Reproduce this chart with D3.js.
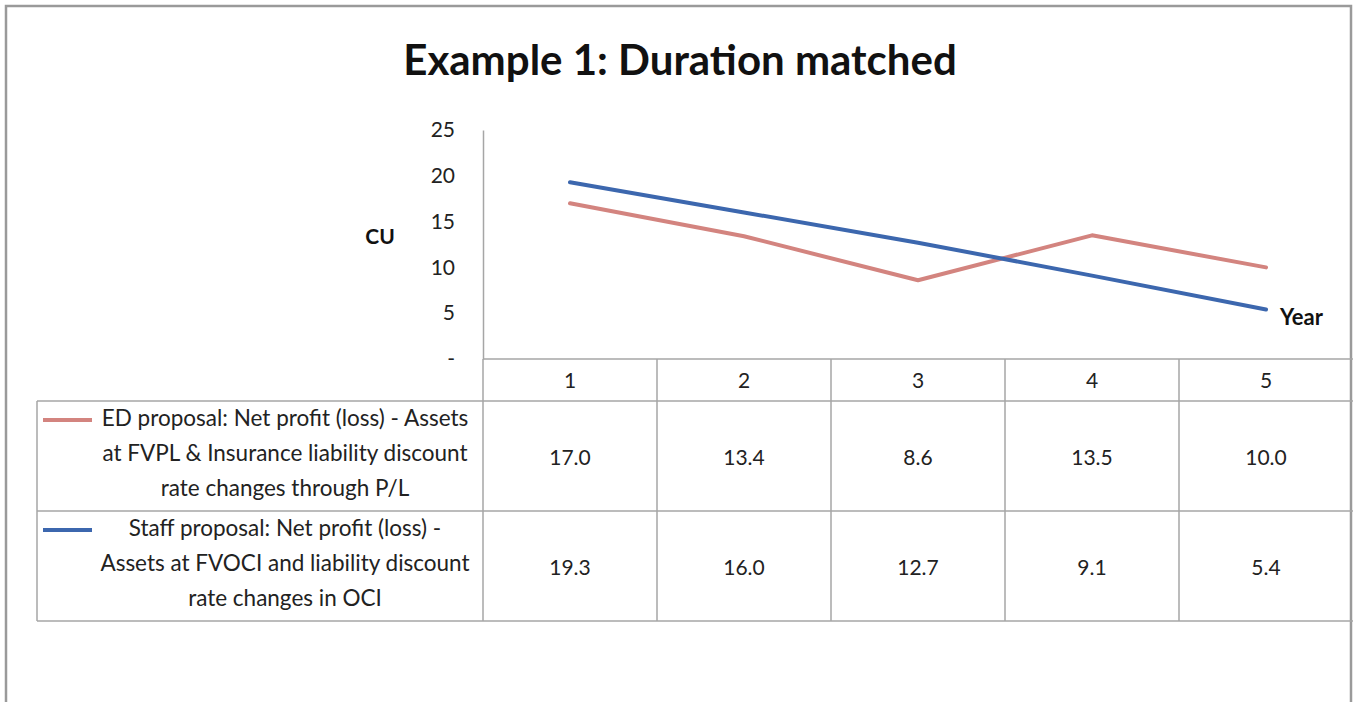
<!DOCTYPE html>
<html><head><meta charset="utf-8">
<script src="https://cdn.jsdelivr.net/npm/d3@7"></script>
<style>
html,body{margin:0;padding:0;background:#fff;}
svg{display:block;font-family:Lato,"Open Sans",sans-serif;}
</style></head>
<body>
<svg id="chart" width="1354" height="702"></svg>
<script>
const title = "Example 1: Duration matched";
const years = [1, 2, 3, 4, 5];
const yTicks = [0, 5, 10, 15, 20, 25];
const seriesNames = ["ED proposal", "Staff proposal"];
const edValues = [17.0, 13.4, 8.6, 13.5, 10.0];
const staffValues = [19.3, 16.0, 12.7, 9.1, 5.4];
const edLabel = ["ED proposal: Net profit (loss) - Assets", "at FVPL & Insurance liability discount", "rate changes through P/L"];
const staffLabel = ["Staff proposal: Net profit (loss) -", "Assets at FVOCI and liability discount", "rate changes in OCI"];
const colors = ["#d3847f", "#3c67ae"];

const series = [
  {name: seriesNames[0], values: edValues, label: edLabel, color: colors[0]},
  {name: seriesNames[1], values: staffValues, label: staffLabel, color: colors[1]}
];

const svg = d3.select("#chart");
const gridColor = "#a6a6a6";
const textColor = "#222";

// geometry
const plotLeft = 483, plotRight = 1353, plotTop = 130, plotBottom = 359;
const headerBottom = 401, rowH = 110, legendLeft = 37;
const x = d3.scaleBand().domain(years).range([plotLeft, plotRight]).padding(0);
const y = d3.scaleLinear().domain([0, 25]).range([plotBottom, plotTop]);

// outer frame
svg.append("path").attr("d", "M6,702 L6,6 L1351,6 L1351,702")
  .attr("fill", "none").attr("stroke", "#9a9a9a").attr("stroke-width", 2.5);

// title
svg.append("text").attr("x", 680).attr("y", 75).attr("text-anchor", "middle")
  .attr("font-size", 42).attr("font-weight", "bold").attr("fill", "#111").text(title);

// y axis
const yAxis = d3.axisLeft(y).tickValues(yTicks).tickSize(0).tickPadding(28)
  .tickFormat(d => d === 0 ? "-" : d);
const gy = svg.append("g").attr("transform", `translate(${plotLeft},0)`).call(yAxis);
gy.select(".domain").attr("stroke", gridColor).attr("stroke-width", 1.5);
gy.selectAll("text").attr("font-size", 21).attr("fill", textColor).attr("font-family", "Lato, sans-serif");

svg.append("text").attr("x", 380).attr("y", 244).attr("text-anchor", "middle")
  .attr("font-size", 21).attr("font-weight", "bold").attr("fill", "#111").text("CU");

// table lines
const tableG = svg.append("g").attr("stroke", gridColor).attr("stroke-width", 1.5);
const nRows = series.length;
const tableBottom = headerBottom + nRows * rowH;
tableG.append("line").attr("x1", plotLeft).attr("x2", plotRight).attr("y1", plotBottom).attr("y2", plotBottom);
d3.range(nRows + 1).forEach(i => {
  const yy = headerBottom + i * rowH;
  tableG.append("line").attr("x1", legendLeft).attr("x2", plotRight).attr("y1", yy).attr("y2", yy);
});
tableG.append("line").attr("x1", legendLeft).attr("x2", legendLeft).attr("y1", headerBottom).attr("y2", tableBottom);
tableG.append("line").attr("x1", plotLeft).attr("x2", plotLeft).attr("y1", plotBottom).attr("y2", tableBottom);
years.forEach(yr => {
  const xx = x(yr) + x.bandwidth();
  if (xx < plotRight - 2)
    tableG.append("line").attr("x1", xx).attr("x2", xx).attr("y1", plotBottom).attr("y2", tableBottom);
});

// header labels (x axis categories)
svg.append("g").selectAll("text").data(years).join("text")
  .attr("x", d => x(d) + x.bandwidth() / 2).attr("y", 388)
  .attr("text-anchor", "middle").attr("font-size", 21).attr("fill", textColor).text(d => d);

// lines
const line = d3.line().x((d, i) => x(years[i]) + x.bandwidth() / 2).y(d => y(d));
series.forEach(s => {
  svg.append("path").datum(s.values).attr("d", line)
    .attr("fill", "none").attr("stroke", s.color).attr("stroke-width", 4)
    .attr("stroke-linejoin", "round").attr("stroke-linecap", "round");
});

svg.append("text").attr("x", 1280).attr("y", 325)
  .attr("font-size", 22).attr("font-weight", "bold").attr("fill", "#111").text("Year");

// table rows
series.forEach((s, r) => {
  const top = headerBottom + r * rowH;
  const g = svg.append("g");
  g.append("line").attr("x1", 43).attr("x2", 92).attr("y1", top + 19).attr("y2", top + 19)
    .attr("stroke", s.color).attr("stroke-width", 4);
  g.selectAll("text.lbl").data(s.label).join("text").attr("class", "lbl")
    .attr("x", 285).attr("y", (d, i) => top + 25 + i * 35)
    .attr("text-anchor", "middle").attr("font-size", 22.5).attr("fill", textColor).text(d => d);
  g.selectAll("text.val").data(s.values).join("text").attr("class", "val")
    .attr("x", (d, i) => x(years[i]) + x.bandwidth() / 2).attr("y", top + 64)
    .attr("text-anchor", "middle").attr("font-size", 21).attr("fill", textColor)
    .text(d => d.toFixed(1));
});
</script>
</body></html>
